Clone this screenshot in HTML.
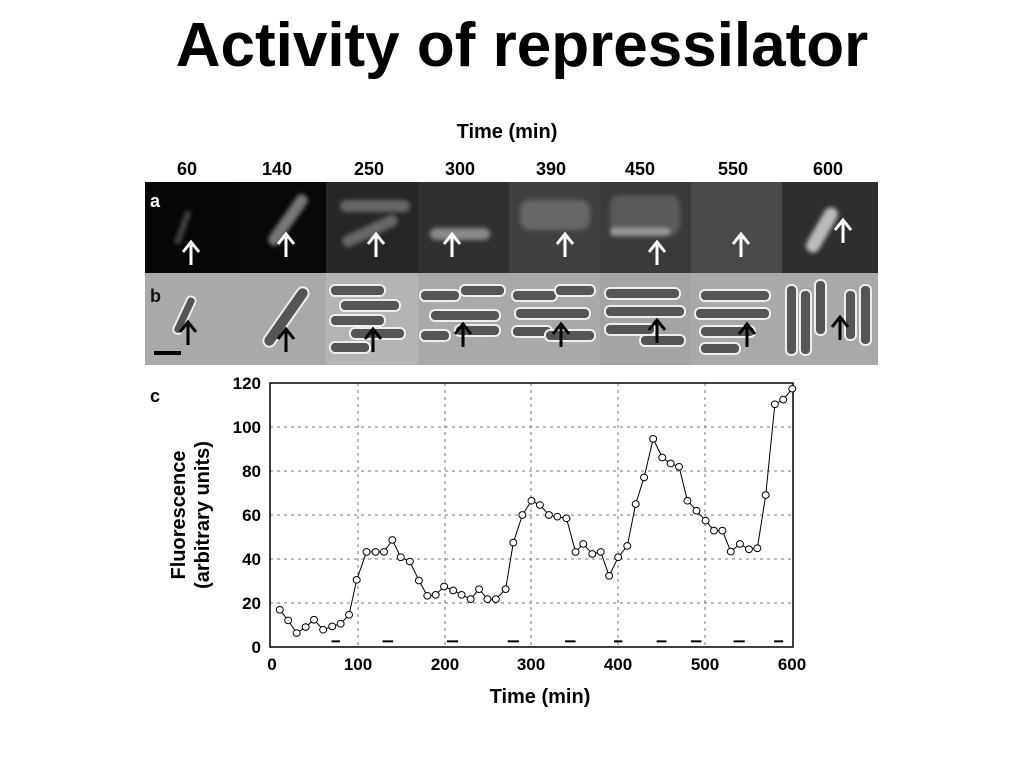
<!DOCTYPE html>
<html><head><meta charset="utf-8"><style>
html,body{margin:0;padding:0;background:#fff;width:1024px;height:768px;overflow:hidden;font-family:"Liberation Sans",Arial,sans-serif}
</style></head><body>
<svg width="1024" height="768" viewBox="0 0 1024 768" xmlns="http://www.w3.org/2000/svg" font-family="Liberation Sans, Arial, sans-serif">
<text x="522" y="66" font-size="62" font-weight="bold" text-anchor="middle">Activity of repressilator</text>
<text x="507" y="138" font-size="20" font-weight="bold" text-anchor="middle">Time (min)</text>
<g font-size="18" font-weight="bold" text-anchor="middle">
<text x="187" y="175">60</text><text x="277" y="175">140</text><text x="369" y="175">250</text><text x="460" y="175">300</text><text x="551" y="175">390</text><text x="640" y="175">450</text><text x="733" y="175">550</text><text x="828" y="175">600</text>
</g>
<defs><filter id="bl"><feGaussianBlur stdDeviation="2"/></filter></defs>
<rect x="145" y="182" width="90" height="91" fill="#060606"/>
<rect x="235" y="182" width="91" height="91" fill="#080808"/>
<rect x="326" y="182" width="92" height="91" fill="#262626"/>
<rect x="418" y="182" width="91" height="91" fill="#303030"/>
<rect x="509" y="182" width="91" height="91" fill="#404040"/>
<rect x="600" y="182" width="91" height="91" fill="#3a3a3a"/>
<rect x="691" y="182" width="91" height="91" fill="#4a4a4a"/>
<rect x="782" y="182" width="96" height="91" fill="#2e2e2e"/>
<g filter="url(#bl)" fill="#777">
<rect x="180" y="210" width="6" height="35" rx="3" transform="rotate(20 183 227)" fill="#444"/>
<rect x="282" y="190" width="12" height="60" rx="6" transform="rotate(35 288 220)"/>
<rect x="340" y="200" width="70" height="12" rx="6" fill="#666"/><rect x="340" y="225" width="60" height="12" rx="6" transform="rotate(-25 370 231)" fill="#666"/>
<rect x="430" y="228" width="60" height="12" rx="6" fill="#888"/>
<rect x="520" y="200" width="70" height="30" rx="10" fill="#666"/>
<rect x="610" y="195" width="70" height="40" rx="10" fill="#5a5a5a"/><rect x="610" y="228" width="60" height="8" rx="4" fill="#999"/>
<rect x="815" y="205" width="14" height="50" rx="7" transform="rotate(30 822 230)" fill="#bbb"/>
</g>
<g fill="#fff" stroke="#fff">
<path d="M191 265V245M183 252L191 242L199 252" stroke-width="3" fill="none"/>
<path d="M286 257V237M278 244L286 234L294 244" stroke-width="3" fill="none"/>
<path d="M376 257V237M368 244L376 234L384 244" stroke-width="3" fill="none"/>
<path d="M452 257V237M444 244L452 234L460 244" stroke-width="3" fill="none"/>
<path d="M565 257V237M557 244L565 234L573 244" stroke-width="3" fill="none"/>
<path d="M657 265V245M649 252L657 242L665 252" stroke-width="3" fill="none"/>
<path d="M741 257V237M733 244L741 234L749 244" stroke-width="3" fill="none"/>
<path d="M843 243V223M835 230L843 220L851 230" stroke-width="3" fill="none"/>
</g>
<rect x="145" y="273" width="733" height="92" fill="#a9a9a9"/>
<rect x="326" y="273" width="92" height="92" fill="#b4b4b4"/>
<rect x="600" y="273" width="91" height="92" fill="#a4a4a4"/>
<g fill="#555" stroke="#eee" stroke-width="2">
<rect x="180" y="295" width="9" height="40" rx="4" transform="rotate(25 184 315)"/>
<rect x="280" y="282" width="12" height="70" rx="6" transform="rotate(35 286 317)"/>
<rect x="330" y="285" width="55" height="11" rx="5"/><rect x="340" y="300" width="60" height="11" rx="5"/><rect x="330" y="315" width="55" height="11" rx="5"/><rect x="350" y="328" width="55" height="11" rx="5"/><rect x="330" y="342" width="40" height="11" rx="5"/>
<rect x="420" y="290" width="40" height="11" rx="5"/><rect x="460" y="285" width="45" height="11" rx="5"/><rect x="430" y="310" width="70" height="11" rx="5"/><rect x="420" y="330" width="30" height="11" rx="5"/><rect x="455" y="325" width="45" height="11" rx="5"/>
<rect x="512" y="290" width="45" height="11" rx="5"/><rect x="555" y="285" width="40" height="11" rx="5"/><rect x="515" y="308" width="75" height="11" rx="5"/><rect x="512" y="326" width="40" height="11" rx="5"/><rect x="545" y="330" width="50" height="11" rx="5"/>
<rect x="605" y="288" width="75" height="11" rx="5"/><rect x="605" y="306" width="80" height="11" rx="5"/><rect x="605" y="324" width="50" height="11" rx="5"/><rect x="640" y="335" width="45" height="11" rx="5"/>
<rect x="700" y="290" width="70" height="11" rx="5"/><rect x="695" y="308" width="75" height="11" rx="5"/><rect x="700" y="326" width="55" height="11" rx="5"/><rect x="700" y="343" width="40" height="11" rx="5"/>
<rect x="786" y="285" width="11" height="70" rx="5"/><rect x="800" y="290" width="11" height="65" rx="5"/><rect x="815" y="280" width="11" height="55" rx="5"/><rect x="845" y="290" width="11" height="50" rx="5"/><rect x="860" y="285" width="11" height="60" rx="5"/>
</g>
<g stroke="#000" stroke-width="3" fill="none">
<path d="M188 345V325M180 332L188 322L196 332"/>
<path d="M286 352V332M278 339L286 329L294 339"/>
<path d="M373 352V332M365 339L373 329L381 339"/>
<path d="M463 347V327M455 334L463 324L471 334"/>
<path d="M561 347V327M553 334L561 324L569 334"/>
<path d="M657 343V323M649 330L657 320L665 330"/>
<path d="M747 347V327M739 334L747 324L755 334"/>
<path d="M840 340V320M832 327L840 317L848 327"/>
</g>
<rect x="154" y="351" width="27" height="4" fill="#000"/>
<text x="150" y="207" font-size="18" font-weight="bold" fill="#fff">a</text>
<text x="150" y="302" font-size="18" font-weight="bold" fill="#111">b</text>
<text x="150" y="402" font-size="18" font-weight="bold">c</text>
<g stroke="#777" stroke-width="1" stroke-dasharray="3,4">
<line x1="358" y1="383" x2="358" y2="647"/><line x1="445" y1="383" x2="445" y2="647"/><line x1="531" y1="383" x2="531" y2="647"/><line x1="618" y1="383" x2="618" y2="647"/><line x1="705" y1="383" x2="705" y2="647"/>
<line x1="270" y1="603" x2="793" y2="603"/><line x1="270" y1="559" x2="793" y2="559"/><line x1="270" y1="515" x2="793" y2="515"/><line x1="270" y1="471" x2="793" y2="471"/><line x1="270" y1="427" x2="793" y2="427"/>
</g>
<rect x="270" y="383" width="523" height="264" fill="none" stroke="#000" stroke-width="1.5"/>
<g transform="translate(270,383) scale(0.3496,0.3325) translate(-22,-38)">
<polyline fill="none" stroke="#000" stroke-width="1" vector-effect="non-scaling-stroke" points="50,720 74,752 98,790 124,772 148,750 174,780 200,770 224,762 248,735 270,630 298,546 324,546 348,546 372,510 396,562 422,575 448,632 472,678 496,675 520,650 546,662 570,675 596,688 620,658 644,688 668,688 696,658 718,518 744,435 770,392 794,405 820,435 844,440 870,445 896,546 918,522 944,552 968,546 992,618 1018,562 1044,528 1068,402 1092,322 1118,206 1144,262 1168,280 1192,290 1216,392 1242,422 1268,452 1292,482 1316,482 1340,545 1366,522 1392,538 1416,535 1440,375 1466,102 1490,88 1516,55"/>
<g fill="#fff" stroke="#000" stroke-width="1">
<ellipse cx="50" cy="720" rx="10" ry="10" vector-effect="non-scaling-stroke"/><ellipse cx="74" cy="752" rx="10" ry="10" vector-effect="non-scaling-stroke"/><ellipse cx="98" cy="790" rx="10" ry="10" vector-effect="non-scaling-stroke"/><ellipse cx="124" cy="772" rx="10" ry="10" vector-effect="non-scaling-stroke"/><ellipse cx="148" cy="750" rx="10" ry="10" vector-effect="non-scaling-stroke"/><ellipse cx="174" cy="780" rx="10" ry="10" vector-effect="non-scaling-stroke"/><ellipse cx="200" cy="770" rx="10" ry="10" vector-effect="non-scaling-stroke"/><ellipse cx="224" cy="762" rx="10" ry="10" vector-effect="non-scaling-stroke"/><ellipse cx="248" cy="735" rx="10" ry="10" vector-effect="non-scaling-stroke"/><ellipse cx="270" cy="630" rx="10" ry="10" vector-effect="non-scaling-stroke"/><ellipse cx="298" cy="546" rx="10" ry="10" vector-effect="non-scaling-stroke"/><ellipse cx="324" cy="546" rx="10" ry="10" vector-effect="non-scaling-stroke"/><ellipse cx="348" cy="546" rx="10" ry="10" vector-effect="non-scaling-stroke"/><ellipse cx="372" cy="510" rx="10" ry="10" vector-effect="non-scaling-stroke"/><ellipse cx="396" cy="562" rx="10" ry="10" vector-effect="non-scaling-stroke"/><ellipse cx="422" cy="575" rx="10" ry="10" vector-effect="non-scaling-stroke"/><ellipse cx="448" cy="632" rx="10" ry="10" vector-effect="non-scaling-stroke"/><ellipse cx="472" cy="678" rx="10" ry="10" vector-effect="non-scaling-stroke"/><ellipse cx="496" cy="675" rx="10" ry="10" vector-effect="non-scaling-stroke"/><ellipse cx="520" cy="650" rx="10" ry="10" vector-effect="non-scaling-stroke"/><ellipse cx="546" cy="662" rx="10" ry="10" vector-effect="non-scaling-stroke"/><ellipse cx="570" cy="675" rx="10" ry="10" vector-effect="non-scaling-stroke"/><ellipse cx="596" cy="688" rx="10" ry="10" vector-effect="non-scaling-stroke"/><ellipse cx="620" cy="658" rx="10" ry="10" vector-effect="non-scaling-stroke"/><ellipse cx="644" cy="688" rx="10" ry="10" vector-effect="non-scaling-stroke"/><ellipse cx="668" cy="688" rx="10" ry="10" vector-effect="non-scaling-stroke"/><ellipse cx="696" cy="658" rx="10" ry="10" vector-effect="non-scaling-stroke"/><ellipse cx="718" cy="518" rx="10" ry="10" vector-effect="non-scaling-stroke"/><ellipse cx="744" cy="435" rx="10" ry="10" vector-effect="non-scaling-stroke"/><ellipse cx="770" cy="392" rx="10" ry="10" vector-effect="non-scaling-stroke"/><ellipse cx="794" cy="405" rx="10" ry="10" vector-effect="non-scaling-stroke"/><ellipse cx="820" cy="435" rx="10" ry="10" vector-effect="non-scaling-stroke"/><ellipse cx="844" cy="440" rx="10" ry="10" vector-effect="non-scaling-stroke"/><ellipse cx="870" cy="445" rx="10" ry="10" vector-effect="non-scaling-stroke"/><ellipse cx="896" cy="546" rx="10" ry="10" vector-effect="non-scaling-stroke"/><ellipse cx="918" cy="522" rx="10" ry="10" vector-effect="non-scaling-stroke"/><ellipse cx="944" cy="552" rx="10" ry="10" vector-effect="non-scaling-stroke"/><ellipse cx="968" cy="546" rx="10" ry="10" vector-effect="non-scaling-stroke"/><ellipse cx="992" cy="618" rx="10" ry="10" vector-effect="non-scaling-stroke"/><ellipse cx="1018" cy="562" rx="10" ry="10" vector-effect="non-scaling-stroke"/><ellipse cx="1044" cy="528" rx="10" ry="10" vector-effect="non-scaling-stroke"/><ellipse cx="1068" cy="402" rx="10" ry="10" vector-effect="non-scaling-stroke"/><ellipse cx="1092" cy="322" rx="10" ry="10" vector-effect="non-scaling-stroke"/><ellipse cx="1118" cy="206" rx="10" ry="10" vector-effect="non-scaling-stroke"/><ellipse cx="1144" cy="262" rx="10" ry="10" vector-effect="non-scaling-stroke"/><ellipse cx="1168" cy="280" rx="10" ry="10" vector-effect="non-scaling-stroke"/><ellipse cx="1192" cy="290" rx="10" ry="10" vector-effect="non-scaling-stroke"/><ellipse cx="1216" cy="392" rx="10" ry="10" vector-effect="non-scaling-stroke"/><ellipse cx="1242" cy="422" rx="10" ry="10" vector-effect="non-scaling-stroke"/><ellipse cx="1268" cy="452" rx="10" ry="10" vector-effect="non-scaling-stroke"/><ellipse cx="1292" cy="482" rx="10" ry="10" vector-effect="non-scaling-stroke"/><ellipse cx="1316" cy="482" rx="10" ry="10" vector-effect="non-scaling-stroke"/><ellipse cx="1340" cy="545" rx="10" ry="10" vector-effect="non-scaling-stroke"/><ellipse cx="1366" cy="522" rx="10" ry="10" vector-effect="non-scaling-stroke"/><ellipse cx="1392" cy="538" rx="10" ry="10" vector-effect="non-scaling-stroke"/><ellipse cx="1416" cy="535" rx="10" ry="10" vector-effect="non-scaling-stroke"/><ellipse cx="1440" cy="375" rx="10" ry="10" vector-effect="non-scaling-stroke"/><ellipse cx="1466" cy="102" rx="10" ry="10" vector-effect="non-scaling-stroke"/><ellipse cx="1490" cy="88" rx="10" ry="10" vector-effect="non-scaling-stroke"/><ellipse cx="1516" cy="55" rx="10" ry="10" vector-effect="non-scaling-stroke"/>
</g>
<g stroke="#000" stroke-width="2">
<line x1="198" y1="815" x2="222" y2="815" vector-effect="non-scaling-stroke"/><line x1="344" y1="815" x2="374" y2="815" vector-effect="non-scaling-stroke"/><line x1="528" y1="815" x2="560" y2="815" vector-effect="non-scaling-stroke"/><line x1="702" y1="815" x2="734" y2="815" vector-effect="non-scaling-stroke"/><line x1="866" y1="815" x2="896" y2="815" vector-effect="non-scaling-stroke"/><line x1="1006" y1="815" x2="1030" y2="815" vector-effect="non-scaling-stroke"/><line x1="1128" y1="815" x2="1156" y2="815" vector-effect="non-scaling-stroke"/><line x1="1226" y1="815" x2="1256" y2="815" vector-effect="non-scaling-stroke"/><line x1="1348" y1="815" x2="1380" y2="815" vector-effect="non-scaling-stroke"/><line x1="1464" y1="815" x2="1490" y2="815" vector-effect="non-scaling-stroke"/>
</g>
</g>
<g font-size="17" font-weight="bold" text-anchor="end">
<text x="261" y="653">0</text><text x="261" y="609">20</text><text x="261" y="565">40</text><text x="261" y="521">60</text><text x="261" y="477">80</text><text x="261" y="433">100</text><text x="261" y="389">120</text>
</g>
<g font-size="17" font-weight="bold" text-anchor="middle">
<text x="272" y="670">0</text><text x="358" y="670">100</text><text x="445" y="670">200</text><text x="531" y="670">300</text><text x="618" y="670">400</text><text x="705" y="670">500</text><text x="792" y="670">600</text>
</g>
<text x="540" y="703" font-size="20" font-weight="bold" text-anchor="middle">Time (min)</text>
<g font-size="20" font-weight="bold" text-anchor="middle">
<text transform="translate(185,515) rotate(-90)">Fluorescence</text>
<text transform="translate(209,515) rotate(-90)">(arbitrary units)</text>
</g>
</svg>
</body></html>
